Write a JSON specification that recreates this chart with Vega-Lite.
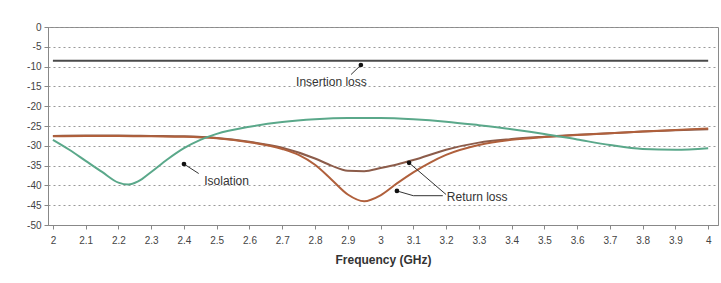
{
  "$schema": "https://vega.github.io/schema/vega-lite/v6.json",
  "width": 670,
  "height": 198,
  "autosize": "none",
  "padding": {"left": 48, "top": 27, "right": 3, "bottom": 58},
  "background": "white",
  "config": {
    "font": "Liberation Sans",
    "view": {"stroke": "#8a8a8a", "strokeWidth": 1}
  },
  "datasets": {
    "curves": [
      {"s": "Insertion loss", "f": 2.0, "v": -8.5},
      {"s": "Insertion loss", "f": 4.0, "v": -8.5},

      {"s": "RL1", "f": 2.0, "v": -27.5},
      {"s": "RL1", "f": 2.1, "v": -27.4},
      {"s": "RL1", "f": 2.2, "v": -27.4},
      {"s": "RL1", "f": 2.3, "v": -27.5},
      {"s": "RL1", "f": 2.4, "v": -27.6},
      {"s": "RL1", "f": 2.5, "v": -28.0},
      {"s": "RL1", "f": 2.6, "v": -29.0},
      {"s": "RL1", "f": 2.7, "v": -30.5},
      {"s": "RL1", "f": 2.8, "v": -33.2},
      {"s": "RL1", "f": 2.85, "v": -35.0},
      {"s": "RL1", "f": 2.9, "v": -36.3},
      {"s": "RL1", "f": 2.95, "v": -36.4},
      {"s": "RL1", "f": 3.0, "v": -35.6},
      {"s": "RL1", "f": 3.05, "v": -34.7},
      {"s": "RL1", "f": 3.1, "v": -33.6},
      {"s": "RL1", "f": 3.2, "v": -31.0},
      {"s": "RL1", "f": 3.3, "v": -29.2},
      {"s": "RL1", "f": 3.4, "v": -28.3},
      {"s": "RL1", "f": 3.5, "v": -27.7},
      {"s": "RL1", "f": 3.6, "v": -27.2},
      {"s": "RL1", "f": 3.7, "v": -26.8},
      {"s": "RL1", "f": 3.8, "v": -26.4},
      {"s": "RL1", "f": 3.9, "v": -26.1},
      {"s": "RL1", "f": 4.0, "v": -25.8},

      {"s": "RL2", "f": 2.0, "v": -27.6},
      {"s": "RL2", "f": 2.1, "v": -27.5},
      {"s": "RL2", "f": 2.2, "v": -27.5},
      {"s": "RL2", "f": 2.3, "v": -27.6},
      {"s": "RL2", "f": 2.4, "v": -27.7},
      {"s": "RL2", "f": 2.5, "v": -28.1},
      {"s": "RL2", "f": 2.6, "v": -29.1},
      {"s": "RL2", "f": 2.7, "v": -30.8},
      {"s": "RL2", "f": 2.75, "v": -32.3},
      {"s": "RL2", "f": 2.8, "v": -34.8},
      {"s": "RL2", "f": 2.85, "v": -38.5},
      {"s": "RL2", "f": 2.9, "v": -42.3},
      {"s": "RL2", "f": 2.95, "v": -44.0},
      {"s": "RL2", "f": 3.0, "v": -42.5},
      {"s": "RL2", "f": 3.05, "v": -39.5},
      {"s": "RL2", "f": 3.1, "v": -36.7},
      {"s": "RL2", "f": 3.15, "v": -34.3},
      {"s": "RL2", "f": 3.2, "v": -32.3},
      {"s": "RL2", "f": 3.3, "v": -29.8},
      {"s": "RL2", "f": 3.4, "v": -28.5},
      {"s": "RL2", "f": 3.5, "v": -27.8},
      {"s": "RL2", "f": 3.6, "v": -27.3},
      {"s": "RL2", "f": 3.7, "v": -26.8},
      {"s": "RL2", "f": 3.8, "v": -26.4},
      {"s": "RL2", "f": 3.9, "v": -26.0},
      {"s": "RL2", "f": 4.0, "v": -25.6},

      {"s": "Isolation", "f": 2.0, "v": -28.5},
      {"s": "Isolation", "f": 2.05, "v": -31.0},
      {"s": "Isolation", "f": 2.1, "v": -33.8},
      {"s": "Isolation", "f": 2.15, "v": -36.6},
      {"s": "Isolation", "f": 2.2, "v": -39.3},
      {"s": "Isolation", "f": 2.23, "v": -39.8},
      {"s": "Isolation", "f": 2.26, "v": -39.0},
      {"s": "Isolation", "f": 2.3, "v": -36.6},
      {"s": "Isolation", "f": 2.35, "v": -33.4},
      {"s": "Isolation", "f": 2.4, "v": -30.6},
      {"s": "Isolation", "f": 2.45, "v": -28.5},
      {"s": "Isolation", "f": 2.5, "v": -27.0},
      {"s": "Isolation", "f": 2.6, "v": -25.2},
      {"s": "Isolation", "f": 2.7, "v": -24.0},
      {"s": "Isolation", "f": 2.8, "v": -23.3},
      {"s": "Isolation", "f": 2.9, "v": -23.0},
      {"s": "Isolation", "f": 3.0, "v": -23.0},
      {"s": "Isolation", "f": 3.1, "v": -23.3},
      {"s": "Isolation", "f": 3.2, "v": -23.9},
      {"s": "Isolation", "f": 3.3, "v": -24.8},
      {"s": "Isolation", "f": 3.4, "v": -25.8},
      {"s": "Isolation", "f": 3.5, "v": -27.0},
      {"s": "Isolation", "f": 3.6, "v": -28.4},
      {"s": "Isolation", "f": 3.7, "v": -29.8},
      {"s": "Isolation", "f": 3.8, "v": -30.8},
      {"s": "Isolation", "f": 3.9, "v": -31.0},
      {"s": "Isolation", "f": 4.0, "v": -30.6}
    ],
    "leaders": [
      {"id": "a", "f": 2.94, "v": -9.6},
      {"id": "a", "f": 2.91, "v": -12.0},
      {"id": "b", "f": 2.40, "v": -34.6},
      {"id": "b", "f": 2.445, "v": -37.0},
      {"id": "c", "f": 3.087, "v": -34.3},
      {"id": "c", "f": 3.2, "v": -42.3},
      {"id": "d", "f": 3.05, "v": -41.4},
      {"id": "d", "f": 3.1, "v": -42.6},
      {"id": "d", "f": 3.19, "v": -42.6}
    ],
    "dots": [
      {"f": 2.94, "v": -9.6},
      {"f": 2.40, "v": -34.6},
      {"f": 3.087, "v": -34.3},
      {"f": 3.05, "v": -41.4}
    ],
    "labels": [
      {"t": "Insertion loss", "f": 2.85, "v": -14.0},
      {"t": "Isolation", "f": 2.53, "v": -38.8},
      {"t": "Return loss", "f": 3.295, "v": -43.0}
    ]
  },
  "encoding": {
    "x": {
      "field": "f",
      "type": "quantitative",
      "scale": {"domain": [1.985, 4.03], "nice": false, "zero": false},
      "axis": {
        "title": "Frequency (GHz)",
        "titleFontSize": 12,
        "titleFontWeight": "bold",
        "titleColor": "#333",
        "titlePadding": 9,
        "values": [2, 2.1, 2.2, 2.3, 2.4, 2.5, 2.6, 2.7, 2.8, 2.9, 3, 3.1, 3.2, 3.3, 3.4, 3.5, 3.6, 3.7, 3.8, 3.9, 4],
        "format": "~f",
        "labelFontSize": 10,
        "labelColor": "#444",
        "labelPadding": 6,
        "tickSize": 4,
        "tickColor": "#888",
        "domainColor": "#888",
        "grid": false
      }
    },
    "y": {
      "field": "v",
      "type": "quantitative",
      "scale": {"domain": [-50, 0], "nice": false},
      "axis": {
        "title": null,
        "values": [0, -5, -10, -15, -20, -25, -30, -35, -40, -45, -50],
        "labelExpr": "'' + datum.value",
        "labelFontSize": 10,
        "labelColor": "#444",
        "labelPadding": 3,
        "tickSize": 4,
        "tickColor": "#888",
        "domainColor": "#888",
        "grid": true,
        "gridColor": "#999",
        "gridDash": [2, 3],
        "gridWidth": 1
      }
    }
  },
  "layer": [
    {
      "data": {"name": "curves"},
      "mark": {"type": "line", "interpolate": "monotone", "strokeWidth": 2},
      "encoding": {
        "color": {
          "field": "s",
          "type": "nominal",
          "scale": {"domain": ["Insertion loss", "RL1", "RL2", "Isolation"], "range": ["#4a4a4a", "#8c5c4a", "#b0603c", "#5aa88a"]},
          "legend": null
        },
        "strokeWidth": {
          "field": "s",
          "type": "nominal",
          "scale": {"domain": ["Insertion loss", "RL1", "RL2", "Isolation"], "range": [3, 2, 2, 2]},
          "legend": null
        }
      }
    },
    {
      "data": {"name": "leaders"},
      "mark": {"type": "line", "color": "#333", "strokeWidth": 1},
      "encoding": {"detail": {"field": "id"}}
    },
    {
      "data": {"name": "dots"},
      "mark": {"type": "point", "filled": true, "color": "#111", "size": 22, "opacity": 1}
    },
    {
      "data": {"name": "labels"},
      "mark": {"type": "text", "fontSize": 12, "color": "#333", "align": "center", "baseline": "middle"},
      "encoding": {"text": {"field": "t"}}
    }
  ]
}
